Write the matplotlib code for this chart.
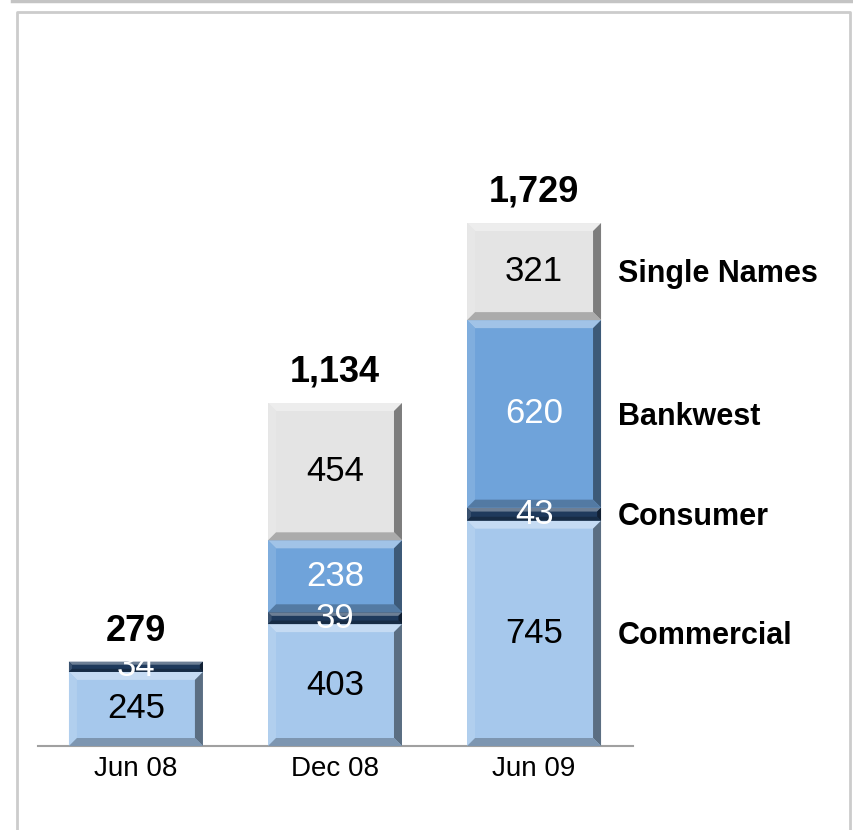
# stacked bar chart of exposures with bevelled bars
import numpy as np
import matplotlib
matplotlib.use("Agg")
from matplotlib import pyplot as plt
from matplotlib.patches import Polygon
from matplotlib.lines import Line2D
from matplotlib import colors as mcolors

periods = ["Jun 08", "Dec 08", "Jun 09"]
series = ["Commercial", "Consumer", "Bankwest", "Single Names"]
commercial = [245, 403, 745]
consumer = [34, 39, 43]
bankwest = [0, 238, 620]
single_names = [0, 454, 321]
totals = ["279", "1,134", "1,729"]

fill_colors = ["#a6c8ec", "#1f3a5c", "#6fa3da", "#e4e4e4"]
text_colors = ["black", "white", "white", "black"]

plt.rcParams["font.family"] = ["Liberation Sans", "DejaVu Sans"]

fig = plt.figure(figsize=(8.54, 8.30), dpi=100)
ax = fig.add_axes([38 / 854, 84 / 830, 595 / 854, 686 / 830])

x = np.arange(len(periods))
width = 0.673
ax.set_xlim(-0.492, 2.497)
ax.set_ylim(0, 2268)


def shade(color, factor):
    rgb = np.array(mcolors.to_rgb(color))
    if factor >= 0:
        rgb = rgb + (1 - rgb) * factor
    else:
        rgb = rgb * (1 + factor)
    return tuple(np.clip(rgb, 0, 1))


def bevel(ax, patch, color):
    x0, y0 = patch.get_x(), patch.get_y()
    w, h = patch.get_width(), patch.get_height()
    if h <= 0:
        return
    x1, y1 = x0 + w, y0 + h
    # bevel size: ~8px converted to data units
    px_x = 8 * (ax.get_xlim()[1] - ax.get_xlim()[0]) / 595
    px_y = 8 * (ax.get_ylim()[1] - ax.get_ylim()[0]) / 686
    by = min(px_y, h * 0.3)
    bx = min(px_x, by * px_x / px_y)
    pieces = [
        ([(x0, y1), (x1, y1), (x1 - bx, y1 - by), (x0 + bx, y1 - by)], 0.35),
        ([(x0, y0), (x0, y1), (x0 + bx, y1 - by), (x0 + bx, y0 + by)], 0.12),
        ([(x1, y0), (x1, y1), (x1 - bx, y1 - by), (x1 - bx, y0 + by)], -0.45),
        ([(x0, y0), (x1, y0), (x1 - bx, y0 + by), (x0 + bx, y0 + by)], -0.25),
    ]
    for pts, f in pieces:
        ax.add_patch(Polygon(pts, closed=True, facecolor=shade(color, f),
                             edgecolor="none", zorder=3))


bottom = np.zeros(len(periods))
for name, vals, fc, tc in zip(series, [commercial, consumer, bankwest, single_names],
                              fill_colors, text_colors):
    vals = np.array(vals, dtype=float)
    bars = ax.bar(x, vals, width, bottom=bottom, color=fc, edgecolor="none", zorder=2)
    for bar, v in zip(bars, vals):
        if v <= 0:
            continue
        bevel(ax, bar, fc)
        ax.text(bar.get_x() + bar.get_width() / 2, bar.get_y() + v / 2, f"{int(v)}",
                ha="center", va="center", fontsize=25, color=tc, zorder=5)
    # series label to the right of the last bar
    last = bars[-1]
    ax.annotate(name, xy=(last.get_x() + last.get_width(), last.get_y() + last.get_height() / 2),
                xytext=(12, -2), textcoords="offset points", ha="left", va="center",
                fontsize=22, fontweight="bold", annotation_clip=False)
    bottom += vals

for xi, top, label in zip(x, bottom, totals):
    ax.annotate(label, xy=(xi, top), xytext=(0, 22), textcoords="offset points",
                ha="center", va="center", fontsize=26, fontweight="bold")

ax.set_xticks(x)
ax.set_xticklabels(periods, fontsize=20)
ax.tick_params(axis="x", length=0, pad=7)
ax.set_yticks([])
for side in ["top", "left", "right"]:
    ax.spines[side].set_visible(False)
ax.spines["bottom"].set_color("#a0a0a0")
ax.spines["bottom"].set_linewidth(1.5)

# outer frame
fc_grey = "#c4c4c4"
fig.add_artist(Line2D([12 / 854, 852 / 854], [1 - 1.5 / 830, 1 - 1.5 / 830],
                      color=fc_grey, linewidth=2.5, transform=fig.transFigure))
fig.add_artist(Line2D([17 / 854, 17 / 854, 850 / 854, 850 / 854],
                      [0, 1 - 12 / 830, 1 - 12 / 830, 0],
                      color="#cccccc", linewidth=2, transform=fig.transFigure))

plt.savefig("out.png", dpi=100)
